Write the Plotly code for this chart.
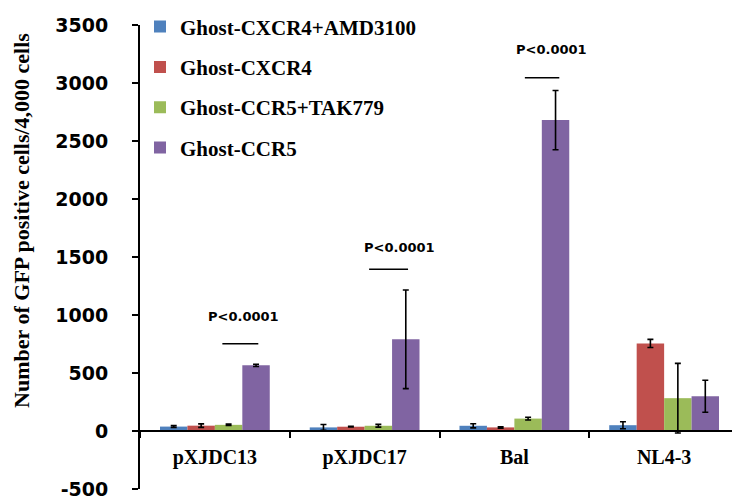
import plotly.graph_objects as go

categories = ["pXJDC13", "pXJDC17", "Bal", "NL4-3"]
series_names = ["Ghost-CXCR4+AMD3100", "Ghost-CXCR4", "Ghost-CCR5+TAK779", "Ghost-CCR5"]
amd3100 = [38, 31, 45, 50]
amd3100_err = [8, 25, 18, 30]
cxcr4 = [46, 37, 31, 755]
cxcr4_err = [15, 3, 6, 35]
ccr5_tak = [53, 45, 107, 283]
ccr5_tak_err = [6, 12, 12, 300]
ccr5 = [566, 790, 2680, 299]
ccr5_err = [10, 425, 255, 138]
y_ticks = [-500, 0, 500, 1000, 1500, 2000, 2500, 3000, 3500]
y_tick_labels = ["-500", "0", "500", "1000", "1500", "2000", "2500", "3000", "3500"]
p_label = "P<0.0001"

colors = ["#4F81BD", "#C0504D", "#9BBB59", "#8064A2"]
values = [amd3100, cxcr4, ccr5_tak, ccr5]
errors = [amd3100_err, cxcr4_err, ccr5_tak_err, ccr5_err]

fig = go.Figure()
for i, (name, v, e, c) in enumerate(zip(series_names, values, errors, colors)):
    fig.add_trace(go.Bar(
        x=categories, y=v, name=name, marker_color=c,
        marker_line_width=0, legendgroup=f"g{i}",
        error_y=dict(type="data", array=e, visible=True, color="black",
                     thickness=1.6, width=3),
    ))

W, H = 740, 501
L, R, T, B = 132, 9, 17, 20

# significance bars and labels
sig = [
    dict(x0=0.05, x1=0.29, yl=752, xt=0.19, yt=985),
    dict(x0=1.03, x1=1.29, yl=1395, xt=1.23, yt=1578),
    dict(x0=2.07, x1=2.30, yl=3046, xt=2.25, yt=3289),
]
for s in sig:
    fig.add_shape(type="line", xref="x", yref="y", x0=s["x0"], x1=s["x1"],
                  y0=s["yl"], y1=s["yl"], line=dict(color="black", width=1.5))
    fig.add_annotation(xref="x", yref="y", x=s["xt"], y=s["yt"], text=p_label,
                       showarrow=False,
                       font=dict(family="DejaVu Sans", size=13, color="black", weight="bold"))

fig.add_annotation(xref="paper", yref="paper", x=-0.197, y=0.58,
                   xanchor="center", yanchor="middle",
                   text="<b>Number of GFP positive cells/4,000 cells</b>",
                   textangle=-90, showarrow=False,
                   font=dict(family="Liberation Serif", size=22, color="black"))

zero_pos = (0 - y_ticks[0]) / (y_ticks[-1] - y_ticks[0])

fig.update_layout(
    width=W, height=H,
    margin=dict(l=L, r=R, t=T, b=B, autoexpand=False),
    paper_bgcolor="white", plot_bgcolor="white",
    barmode="group", bargap=0.267, bargroupgap=0,
    showlegend=True,
    legend=dict(x=0.0, y=1.04, xanchor="left", yanchor="top",
                traceorder="grouped", tracegroupgap=10,
                font=dict(family="Liberation Serif", size=21, color="black", weight="bold"),
                bgcolor="rgba(0,0,0,0)"),
    xaxis=dict(type="category", anchor="free", position=zero_pos,
               showline=True, linecolor="black", linewidth=2,
               ticks="outside", tickson="boundaries", ticklen=6,
               tickcolor="black", tickwidth=2, ticklabelstandoff=8,
               showgrid=False, zeroline=False, automargin=False,
               tickfont=dict(family="Liberation Serif", size=20, color="black", weight="bold")),
    yaxis=dict(range=[y_ticks[0], y_ticks[-1]], tickvals=y_ticks, ticktext=y_tick_labels,
               showline=True, linecolor="black", linewidth=2,
               ticks="outside", ticklen=6, tickcolor="black", tickwidth=2,
               ticklabelstandoff=20, automargin=False,
               showgrid=False, zeroline=False,
               tickfont=dict(family="DejaVu Sans", size=19, color="black", weight="bold")),
)

fig.write_html("out.html")
